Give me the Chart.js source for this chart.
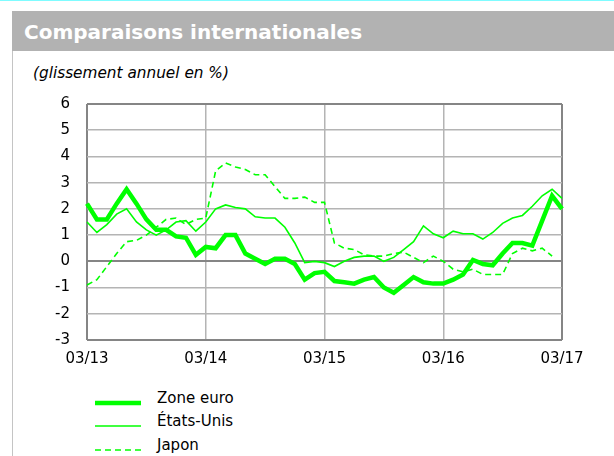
<!DOCTYPE html>
<html>
<head>
<meta charset="utf-8">
<script src="https://cdn.jsdelivr.net/npm/chart.js@4.4.0/dist/chart.umd.min.js"></script>
<style>
  body { margin: 0; width: 614px; height: 456px; position: relative; overflow: hidden; background: #fff; font-family: "DejaVu Sans", sans-serif; }
  #topline { position: absolute; left: 0; top: 0; width: 614px; height: 1px; background: #7ffcff; }
  #header { position: absolute; left: 12px; top: 11px; width: 602px; height: 40px; background: #b2b2b2; }
  #header span { position: absolute; left: 12px; top: 9px; color: #fff; font-weight: bold; font-size: 20px; }
  #frame { position: absolute; left: 12px; top: 51px; width: 1px; height: 405px; background: #c4c4c4; }
  #subtitle { position: absolute; left: 33px; top: 64px; font-style: italic; font-size: 15.3px; color: #000; }
  #wrap { position: absolute; left: 0; top: 78px; }
  .leg { position: absolute; left: 95px; font-size: 15px; color: #000; }
  .leg svg { position: absolute; left: 0; }
  .leg span { position: absolute; left: 62px; white-space: nowrap; }
</style>
</head>
<body>
<div id="topline"></div>
<div id="header"><span>Comparaisons internationales</span></div>
<div id="frame"></div>
<div id="subtitle">(glissement annuel en %)</div>
<div id="wrap"><canvas id="myChart" width="614" height="302"></canvas></div>
<div id="legend"></div>

<script>
// monthly year-on-year change, 03/13 .. 03/17
const zoneEuro = [2.2, 1.6, 1.6, 2.2, 2.75, 2.2, 1.6, 1.2, 1.2, 0.95, 0.9, 0.25,
  0.55, 0.5, 1.0, 1.0, 0.3, 0.1, -0.1, 0.1, 0.1, -0.1, -0.7, -0.45,
  -0.4, -0.75, -0.8, -0.85, -0.7, -0.6, -1.0, -1.2, -0.9, -0.6, -0.8, -0.85,
  -0.85, -0.7, -0.5, 0.05, -0.1, -0.15, 0.3, 0.7, 0.7, 0.6, 1.55, 2.5,
  2.0];
const etatsUnis = [1.5, 1.1, 1.4, 1.8, 2.0, 1.5, 1.2, 1.0, 1.2, 1.5, 1.55, 1.15,
  1.5, 2.0, 2.15, 2.05, 2.0, 1.7, 1.65, 1.65, 1.3, 0.7, -0.05, 0.0,
  -0.05, -0.2, 0.0, 0.15, 0.2, 0.2, 0.0, 0.15, 0.45, 0.75, 1.35, 1.05,
  0.9, 1.15, 1.05, 1.05, 0.85, 1.1, 1.45, 1.65, 1.75, 2.1, 2.5, 2.75,
  2.4];
const japon = [-0.9, -0.7, -0.2, 0.3, 0.75, 0.8, 1.0, 1.3, 1.6, 1.65, 1.4, 1.6,
  1.65, 3.45, 3.75, 3.6, 3.5, 3.3, 3.3, 2.85, 2.4, 2.4, 2.45, 2.25,
  2.25, 0.7, 0.5, 0.45, 0.25, 0.2, 0.2, 0.3, 0.35, 0.15, -0.05, 0.2,
  0.0, -0.3, -0.4, -0.3, -0.5, -0.5, -0.5, 0.3, 0.5, 0.4, 0.5, 0.2,
  null];
const seriesNames = ['Zone euro', 'États-Unis', 'Japon'];
const yMin = -3, yMax = 6;

// month labels mm/yy starting 03/13
const months = [];
for (let i = 0; i < zoneEuro.length; i++) {
  const m = (2 + i) % 12 + 1;
  const y = 13 + Math.floor((2 + i) / 12);
  months.push(String(m).padStart(2, '0') + '/' + y);
}

const green = '#00ff00';
const dark = '#858585';
const light = '#b4b4b4';

const styles = [
  { borderWidth: 4.5, borderDash: [] },
  { borderWidth: 1.6, borderDash: [] },
  { borderWidth: 1.6, borderDash: [6, 4] }
];
const values = [zoneEuro, etatsUnis, japon];

const ctx = document.getElementById('myChart');
const myChart = new Chart(ctx, {
  type: 'line',
  data: {
    labels: months,
    datasets: seriesNames.map((name, k) => ({
      label: name,
      data: values[k],
      borderColor: green,
      borderWidth: styles[k].borderWidth,
      borderDash: styles[k].borderDash,
      pointRadius: 0,
      tension: 0,
      fill: false,
      spanGaps: false
    }))
  },
  options: {
    responsive: false,
    animation: false,
    devicePixelRatio: 1,
    layout: { padding: { top: 0, right: 52, left: 0, bottom: 0 } },
    plugins: { legend: { display: false }, tooltip: { enabled: false } },
    scales: {
      x: {
        type: 'category',
        border: { display: false },
        grid: {
          drawTicks: false,
          color: c => (c.index === 0 || c.index === months.length - 1) ? dark : (c.index % 12 === 0 ? light : 'rgba(0,0,0,0)'),
          lineWidth: c => (c.index === 0 || c.index === months.length - 1) ? 2 : 1.5
        },
        ticks: {
          autoSkip: false,
          maxRotation: 0,
          padding: 10,
          color: '#000',
          font: { family: 'DejaVu Sans', size: 15 },
          callback: function (val, idx) { return idx % 12 === 0 ? this.getLabelForValue(val) : ''; }
        },
        afterFit: s => { s.height = 40; }
      },
      y: {
        min: yMin,
        max: yMax,
        border: { display: false },
        grid: {
          drawTicks: false,
          color: c => (c.tick.value === 0 || c.tick.value === yMin || c.tick.value === yMax) ? dark : light,
          lineWidth: c => (c.tick.value === 0 || c.tick.value === yMin || c.tick.value === yMax) ? 2 : 1.5
        },
        ticks: {
          stepSize: 1,
          padding: 17,
          color: '#000',
          font: { family: 'DejaVu Sans', size: 15 }
        },
        afterFit: s => { s.width = 87; }
      }
    }
  }
});

// legend
const legendTops = [389, 412, 436];
const legend = document.getElementById('legend');
seriesNames.forEach((name, k) => {
  const row = document.createElement('div');
  row.className = 'leg';
  row.style.top = legendTops[k] + 'px';
  const dash = styles[k].borderDash.length ? ' stroke-dasharray="' + styles[k].borderDash.join(' ') + '"' : '';
  row.innerHTML = '<svg width="46" height="10" style="top:9px"><line x1="0" y1="5" x2="46" y2="5" stroke="' + green +
    '" stroke-width="' + styles[k].borderWidth + '"' + dash + '/></svg><span>' + name + '</span>';
  legend.appendChild(row);
});
</script>
</body>
</html>
